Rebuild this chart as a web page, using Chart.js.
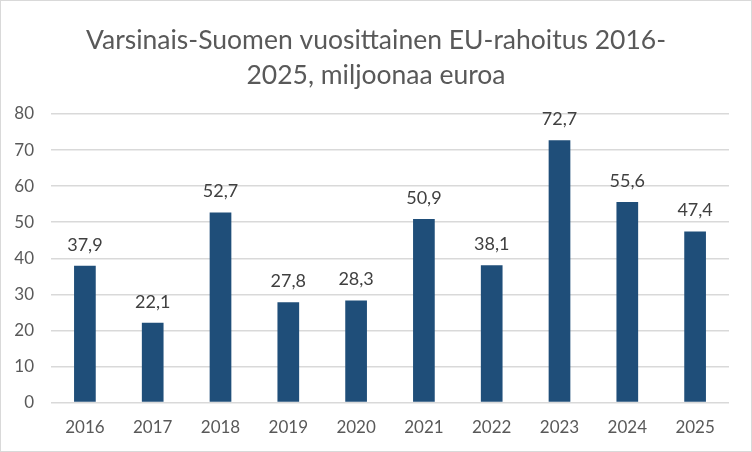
<!DOCTYPE html>
<html>
<head>
<meta charset="utf-8">
<script src="https://cdn.jsdelivr.net/npm/chart.js@4/dist/chart.umd.min.js"></script>
<style>
  body { margin: 0; background: #fff; }
  #wrap { width: 750px; height: 450px; border: 1px solid #d9d9d9; }
</style>
</head>
<body>
<div id="wrap"><canvas id="my-chart" width="750" height="450"></canvas></div>
<script>
const years = ['2016', '2017', '2018', '2019', '2020', '2021', '2022', '2023', '2024', '2025'];
const funding = [37.9, 22.1, 52.7, 27.8, 28.3, 50.9, 38.1, 72.7, 55.6, 47.4];

const font = 'Lato, "Open Sans", sans-serif';

// value labels above the bars, finnish decimal comma
const barLabels = {
  id: 'barLabels',
  afterDatasetsDraw(chart) {
    const c = chart.ctx;
    c.save();
    c.font = '18px ' + font;
    c.fillStyle = '#404040';
    c.textAlign = 'center';
    c.textBaseline = 'middle';
    chart.getDatasetMeta(0).data.forEach((bar, i) => {
      c.fillText(funding[i].toFixed(1).replace('.', ','), bar.x, bar.y - 21);
    });
    c.restore();
  }
};

const ctx = document.getElementById('my-chart');
const myChart = new Chart(ctx, {
  type: 'bar',
  data: {
    labels: years,
    datasets: [{
      data: funding,
      backgroundColor: '#1f4e79',
      barPercentage: 0.64,
      categoryPercentage: 0.5
    }]
  },
  options: {
    responsive: false,
    animation: false,
    layout: { padding: { left: 0, right: 0, top: 22, bottom: 6 } },
    plugins: {
      legend: { display: false },
      tooltip: { enabled: false },
      title: {
        display: true,
        text: ['Varsinais-Suomen vuosittainen EU-rahoitus 2016-', '2025, miljoonaa euroa'],
        color: '#595959',
        font: { family: font, size: 26.5, weight: 'normal', lineHeight: 1.32 },
        padding: { top: 0, bottom: 21 }
      }
    },
    scales: {
      x: {
        grid: { display: false },
        border: { display: false },
        ticks: { color: '#595959', font: { family: font, size: 17 }, padding: 7 }
      },
      y: {
        min: 0,
        max: 80,
        afterFit(scale) { scale.width = 50; },
        ticks: { stepSize: 10, color: '#595959', font: { family: font, size: 17 }, padding: 17 },
        grid: { color: '#d9d9d9', lineWidth: 1.5, drawTicks: false },
        border: { display: false }
      },
      // empty right axis, only keeps the right margin
      yRight: {
        position: 'right',
        afterFit(scale) { scale.width = 22; },
        ticks: { display: false },
        grid: { display: false },
        border: { display: false }
      }
    }
  },
  plugins: [barLabels]
});
</script>
</body>
</html>
